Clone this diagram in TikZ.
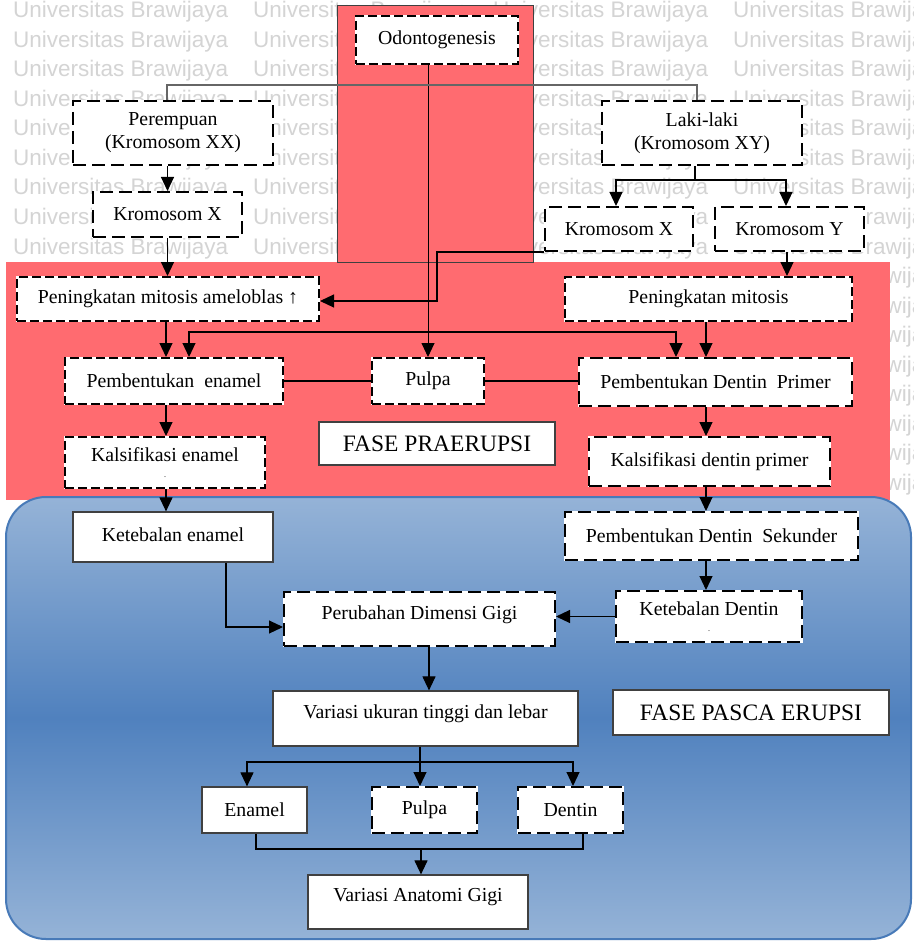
\documentclass[tikz,border=0pt]{standalone}
\usepackage{fontspec}
\setmainfont{Liberation Serif}
\newfontfamily\wmfont{Liberation Sans}
\usetikzlibrary{arrows.meta,calc}
\definecolor{redbg}{RGB}{255,107,112}
\definecolor{bluetop}{RGB}{149,179,215}
\definecolor{bluemid}{RGB}{80,129,190}
\definecolor{blueedge}{RGB}{72,122,184}
\definecolor{wmgray}{RGB}{212,212,212}
\definecolor{boxedge}{RGB}{64,64,64}
\newcommand{\upby}[2]{\raisebox{#1}[\height][\depth]{#2}}
\tikzset{
  txt/.style={font=\fontsize{19.8}{23}\selectfont, align=center, inner sep=0pt, text=black},
  dboxL/.style={txt, fill=white, draw=white, line width=2pt,
    postaction={draw=black, line width=2pt, dash pattern=on 13pt off 6pt}},
  dboxS/.style={txt, fill=white, draw=white, line width=2pt,
    postaction={draw=black, line width=2pt, dash pattern=on 9pt off 4pt}},
  sbox/.style={txt, fill=white, draw=boxedge, line width=1.2pt},
  fase/.style={sbox, font=\fontsize{23.5}{26}\selectfont},
  conn/.style={line width=1.1pt, draw=black},
  arr/.style={conn, -{Triangle[width=13pt,length=14pt]}},
  arrtwo/.style={conn, {Triangle[width=13pt,length=14pt]}-{Triangle[width=13pt,length=14pt]}},
  wm/.style={font=\wmfont\fontsize{22.5}{22.5}\selectfont, text=wmgray, anchor=base west, inner sep=0pt},
}
\begin{document}
\begin{tikzpicture}[x=1pt,y=-1pt]
\useasboundingbox (0,0) rectangle (913,941);
\fill[white] (0,0) rectangle (913,941);
% watermark
\foreach \r in {0,...,16} {
  \foreach \c in {0,...,3} {
    \node[wm] at (13+240*\c, 18+29.5*\r) {Universitas Brawijaya};
  }
}
% phase backgrounds
\fill[redbg] (6,262) rectangle (890,500);
\draw[fill=redbg, draw=boxedge, line width=0.8pt] (337,5) rectangle (533,262);
\shade[rounded corners=40pt, top color=bluetop, bottom color=bluetop, middle color=bluemid] (6,497) rectangle (911,939);
\draw[blueedge, line width=2pt, rounded corners=40pt] (6,497) rectangle (911,939);

% nodes
\node[dboxS, minimum width=162pt, minimum height=48pt] (odo) at (437,40) {Odontogenesis};
\node[dboxL, minimum width=200pt, minimum height=64pt] (per) at (173,133) {Perempuan\\(Kromosom XX)};
\node[dboxL, minimum width=149pt, minimum height=45pt] (kxl) at (167.5,214.5) {Kromosom X};
\node[dboxL, minimum width=200pt, minimum height=64pt] (laki) at (702,133) {Laki-laki\\(Kromosom XY)};
\node[dboxL, minimum width=148pt, minimum height=44pt] (kxr) at (619,229) {Kromosom X};
\node[dboxL, minimum width=149pt, minimum height=44pt] (ky) at (789.5,229) {Kromosom Y};
\node[dboxS, minimum width=302pt, minimum height=44pt] (amel) at (168,299) {Peningkatan mitosis ameloblas ↑};
\node[dboxS, minimum width=287pt, minimum height=44pt] (pmit) at (708.5,299) {Peningkatan mitosis};
\node[dboxS, minimum width=218pt, minimum height=46pt] (penam) at (174,381) {Pembentukan~ enamel};
\node[dboxS, minimum width=112pt, minimum height=46pt] (pulpaA) at (428,381) {Pulpa};
\node[dboxL, minimum width=273pt, minimum height=48pt] (pdp) at (715.5,382) {Pembentukan Dentin~ Primer};
\node[fase, minimum width=236pt, minimum height=43pt] (fpra) at (437,443.5) {FASE PRAERUPSI};
\node[dboxS, minimum width=200pt, minimum height=51pt] (kalen) at (165,462.5) {Kalsifikasi enamel\\[-7pt]{\fontsize{8}{8}\selectfont .}};
\node[dboxL, minimum width=241pt, minimum height=49pt] (kaldp) at (709.5,461.5) {Kalsifikasi dentin primer};
\node[sbox, minimum width=200pt, minimum height=50pt] (keten) at (173,537) {\upby{2pt}{Ketebalan enamel}};
\node[dboxL, minimum width=293pt, minimum height=48pt] (pds) at (711.5,536) {Pembentukan Dentin~ Sekunder};
\node[dboxL, minimum width=271pt, minimum height=54pt] (perub) at (419.5,619) {\upby{4pt}{Perubahan Dimensi Gigi}};
\node[dboxL, minimum width=186pt, minimum height=51pt] (ketden) at (709,616.5) {Ketebalan Dentin\\[-7pt]{\fontsize{8}{8}\selectfont .}};
\node[sbox, minimum width=305pt, minimum height=55pt] (varuk) at (425.5,718.5) {\upby{5pt}{Variasi ukuran tinggi dan lebar}};
\node[fase, minimum width=276pt, minimum height=45pt] (fpasca) at (751,712.5) {FASE PASCA ERUPSI};
\node[sbox, minimum width=105pt, minimum height=46pt] (enamel) at (254.5,810) {Enamel};
\node[dboxL, minimum width=105pt, minimum height=46pt] (pulpaB) at (424.5,810) {Pulpa};
\node[dboxL, minimum width=105pt, minimum height=46pt] (dentin) at (570.5,810) {Dentin};
\node[sbox, minimum width=220pt, minimum height=54pt] (vag) at (418,902) {\upby{5pt}{Variasi Anatomi Gigi}};

% connectors
\coordinate (colL) at (166,0);
\coordinate (colR) at (706,0);
\draw[arr, line width=0.9pt] (odo.south -| pulpaA.north) -- (pulpaA.north);
\coordinate (tj) at (437,85);
\draw[conn, draw=gray!80!black] ([xshift=-6pt]per.north) |- (tj) -| ([xshift=-5pt]laki.north);
\draw[arr] (kxl.north |- per.south) -- (kxl.north);
\coordinate (lj) at (695,180);
\draw[conn] (lj |- laki.south) -- (lj);
\draw[arr] (lj) -| ([xshift=-3pt]kxr.north);
\draw[arr] (lj) -| ([xshift=-3.5pt]ky.north);
\draw[arr] (kxl.south) -- (kxl.south |- amel.north);
\coordinate (kb) at (437,301);
\draw[arr] (kxr.south west) -| (kb) -- (kb -| amel.east);
\draw[arr] ([xshift=-2.5pt]ky.south) -- ([xshift=-2.5pt]ky.south |- pmit.north);
\draw[arr] (amel.south -| colL) -- (penam.north -| colL);
\coordinate (hl) at (189,332);
\coordinate (hr) at (676,332);
\draw[arrtwo] (hl |- penam.north) -- (hl) -- (hr) -- (hr |- pdp.north);
\draw[arr] (pmit.south -| colR) -- (pdp.north -| colR);
\draw[conn] (penam.east) -- (pulpaA.west);
\draw[conn] (pulpaA.east) -- (pulpaA.east -| pdp.west);
\draw[arr] (penam.south -| colL) -- (kalen.north -| colL);
\draw[arr] (pdp.south -| colR) -- (kaldp.north -| colR);
\draw[arr] (kalen.south -| colL) -- (keten.north -| colL);
\draw[arr] (kaldp.south -| colR) -- (pds.north -| colR);
\coordinate (kk) at (226,627);
\draw[arr] (keten.south -| kk) -- (kk) -- (kk -| perub.west);
\draw[arr] (pds.south -| colR) -- (ketden.north -| colR);
\draw[arr] (ketden.west) -- (ketden.west -| perub.east);
\coordinate (pv) at (429,0);
\draw[arr] (perub.south -| pv) -- (varuk.north -| pv);
\coordinate (vj) at (420,762);
\draw[conn] (varuk.south -| vj) -- (vj);
\draw[arr] (vj) -- (vj |- pulpaB.north);
\draw[arr] (vj) -| ([xshift=-7.5pt]enamel.north);
\draw[arr] (vj) -| ([xshift=2.5pt]dentin.north);
\coordinate (bj) at (421,849);
\draw[conn] ([xshift=1.5pt]enamel.south) |- (bj) -| ([xshift=12.5pt]dentin.south);
\draw[arr] (bj) -- (bj |- vag.north);
\end{tikzpicture}
\end{document}
